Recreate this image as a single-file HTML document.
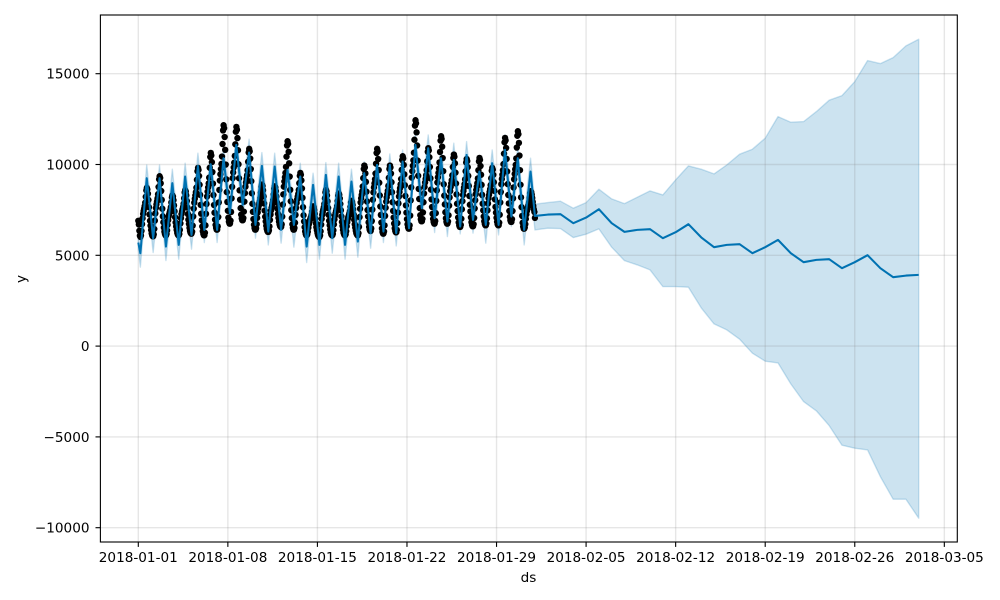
<!DOCTYPE html>
<html lang="en">
<head>
<meta charset="utf-8">
<title>Forecast chart</title>
<style>
html,body{margin:0;padding:0;background:#fff;width:1000px;height:600px;overflow:hidden}
svg{display:block}
text{font-family:"DejaVu Sans","Liberation Sans",sans-serif;font-size:13.6px;fill:#000}
</style>
</head>
<body>
<svg id="chart" xmlns="http://www.w3.org/2000/svg" width="1000" height="600" viewBox="0 0 1000 600">
  <rect x="0" y="0" width="1000" height="600" fill="#fff"/>
  <g id="band"></g>
  <g id="grid"></g>
  <g id="dots"></g>
  <g id="line"></g>
  <g id="axes"></g>
  <text x="528.5" y="582" text-anchor="middle">ds</text>
  <text x="0" y="0" text-anchor="middle" transform="translate(25.5,279) rotate(-90)">y</text>
</svg>
<script>
const xTickDays = [0, 7, 14, 21, 28, 35, 42, 49, 56, 63];
const xTickLabels = ['2018-01-01','2018-01-08','2018-01-15','2018-01-22','2018-01-29','2018-02-05','2018-02-12','2018-02-19','2018-02-26','2018-03-05'];
const yTickValues = [15000, 10000, 5000, 0, -5000, -10000];
const yTickLabels = ['15000','10000','5000','0','\u22125000','\u221210000'];

// Fitted values at the start, then alternating morning low / afternoon high for each day.
const fitStartYhat = 5700;
const fitStartUpper = 6800;
const fitStartLower = 5300;
const fitYhat = [5114,9244,5940,9244,5481,8969,5573,9336,6124,9923,6399,10015,6399,10345,7317,11080,7776,10658,6674,9923,6307,9887,6399,9703,6674,9336,5481,8877,5573,9428,5940,9336,5573,9060,5757,9520,6216,9978,6307,9978,6216,10162,6491,11080,7592,10896,7041,10345,6858,10254,6583,10529,6950,9611,6674,10070,6674,10804,7133,10345,6399,9611];
const fitUpper = [5860,9978,6690,9978,6230,9740,6320,10070,6870,10621,7150,10713,7150,10988,8070,11630,8530,11392,7420,10658,7060,10621,7150,10437,7420,10070,6230,9520,6320,10107,6690,10070,6320,9740,6510,10162,6970,10621,7060,10584,6970,10804,7240,11722,8340,11630,7790,11080,7610,11172,7330,11263,7700,10345,7420,10804,7420,11630,7880,10988,7150,10345];
const fitLower = [4343,8490,5151,8490,4710,8220,4784,8590,5335,9170,5702,9260,5702,9600,6583,10330,7042,9910,5940,9170,5573,9140,5665,8950,5445,8590,4600,8130,4784,8680,5114,8590,4784,8310,4894,8770,5390,9230,5702,9230,5518,9410,6307,10330,6766,10150,6252,9600,6032,9500,6179,9780,6216,8860,5665,9320,6124,10050,6583,9600,5573,8860];

// Daily forecast values from 2018-02-01 onward.
const forecastYhat = [7169,7241,7263,6768,7076,7538,6768,6289,6399,6437,5942,6272,6713,5986,5446,5573,5611,5116,5446,5848,5116,4620,4747,4785,4290,4620,5006,4290,3794,3882,3921];
const forecastUpper = [7814,7902,7979,7594,7902,8640,8106,7847,8199,8546,8326,9152,9923,9741,9482,9978,10567,10842,11448,12638,12329,12362,12913,13541,13794,14565,15721,15556,15887,16531,16900];
const forecastLower = [6399,6492,6470,5975,6162,6454,5446,4708,4471,4196,3276,3276,3243,2104,1222,892,380,-391,-831,-925,-2081,-3056,-3568,-4378,-5457,-5622,-5716,-7186,-8431,-8431,-9477];

// Hourly observations, one row per day (24 readings), plus the closing reading.
const observed = [
6900,6700,6350,6080,6014,6095,6340,6715,7040,7280,7444,7580,7714,7900,8226,8577,8712,8632,8393,8047,7647,7248,6902,6636,
6396,6210,6103,6050,6050,6150,6446,6909,7306,7603,7801,7966,8132,8363,8759,9189,9354,9256,8964,8542,8054,7567,7145,6820,
6527,6300,6170,6105,6105,6171,6368,6676,6939,7137,7268,7378,7488,7642,7905,8190,8300,8234,8037,7751,7422,7093,6807,6588,
6390,6237,6149,6105,6105,6179,6402,6750,7047,7270,7419,7543,7667,7840,8138,8460,8584,8512,8298,7987,7629,7271,6961,6722,
6507,6340,6245,6197,6197,6305,6631,7137,7571,7897,8113,8294,8475,8728,9162,9632,9813,9702,9368,8886,8330,7774,7292,6921,
6587,6327,6179,6105,6105,6241,6649,7284,7828,8236,8508,8735,8961,9279,9823,10412,10639,10505,10132,9584,8950,8317,7768,7346,
6966,6670,6501,6417,6417,6589,7107,7911,8600,9118,9462,9750,10037,10439,11129,11876,12163,12001,11513,10809,9997,9185,8481,7939,
7452,7073,6856,6748,6748,6908,7387,8132,8771,9250,9569,9835,10101,10474,11113,11805,12071,11917,11454,10786,10015,9245,8576,8063,
7600,7240,7035,6932,6932,7050,7403,7953,8425,8778,9014,9210,9407,9682,10153,10664,10860,10727,10327,9749,9083,8416,7839,7394,
6995,6684,6506,6417,6417,6491,6714,7061,7359,7582,7730,7854,7978,8152,8449,8771,8895,8817,8582,8244,7853,7462,7123,6862,
6628,6445,6341,6289,6289,6364,6590,6942,7243,7469,7620,7745,7871,8047,8348,8674,8800,8733,8532,8241,7906,7570,7280,7056,
6855,6698,6609,6564,6564,6706,7130,7791,8357,8781,9065,9300,9536,9867,10433,11046,11282,11136,10698,10066,9336,8606,7974,7487,
7049,6709,6514,6417,6417,6511,6792,7228,7603,7884,8071,8227,8383,8602,8976,9382,9538,9435,9126,8680,8165,7650,7204,6860,
6551,6311,6174,6105,6105,6153,6296,6520,6711,6855,6950,7030,7110,7222,7413,7620,7700,7650,7498,7279,7026,6773,6554,6385,
6233,6115,6048,6014,6014,6092,6324,6686,7001,7229,7385,7514,7643,7824,8135,8471,8600,8525,8301,7976,7602,7228,6903,6654,
6429,6255,6155,6105,6105,6174,6380,6702,6977,7184,7321,7436,7551,7712,7987,8285,8400,8331,8125,7826,7482,7138,6839,6610,
6403,6243,6151,6105,6105,6162,6332,6598,6825,6996,7109,7204,7299,7432,7659,7905,8000,7943,7773,7526,7242,6958,6711,6522,
6351,6219,6143,6105,6105,6220,6565,7103,7563,7908,8139,8330,8522,8791,9251,9750,9942,9834,9510,9043,8503,7963,7495,7136,
6812,6560,6416,6344,6344,6479,6886,7518,8060,8467,8737,8963,9189,9505,10047,10634,10860,10720,10300,9694,8995,8295,7689,7223,
6803,6477,6290,6197,6197,6309,6646,7171,7620,7957,8182,8369,8556,8819,9268,9755,9942,9832,9501,9024,8473,7922,7445,7078,
6747,6490,6343,6270,6270,6396,6772,7358,7861,8237,8489,8698,8907,9200,9703,10247,10456,10336,9978,9460,8862,8265,7747,7348,
6990,6711,6552,6472,6472,6651,7188,8023,8739,9276,9634,9932,10231,10648,11364,12140,12438,12271,11771,11048,10213,9379,8656,8100,
7599,7210,6987,6876,6876,6997,7359,7922,8405,8767,9009,9210,9411,9693,10176,10699,10900,10775,10402,9862,9239,8616,8077,7661,
7288,6997,6831,6748,6748,6892,7325,8000,8575,9008,9297,9537,9778,10114,10691,11317,11557,11413,10980,10355,9633,8912,8287,7806,
7373,7037,6844,6748,6748,6862,7204,7736,8192,8534,8761,8951,9141,9407,9863,10357,10547,10427,10069,9551,8954,8356,7839,7440,
7082,6803,6644,6564,6564,6676,7012,7535,7984,8320,8544,8731,8918,9179,9628,10113,10300,10189,9856,9375,8820,8266,7785,7415,
7082,6823,6675,6601,6601,6714,7052,7579,8031,8369,8595,8783,8971,9234,9686,10175,10363,10252,9918,9436,8880,8324,7842,7472,
7138,6878,6730,6656,6656,6751,7035,7477,7856,8140,8329,8487,8645,8866,9245,9655,9813,9718,9434,9024,8550,8077,7666,7351,
7066,6845,6719,6656,6656,6800,7233,7906,8483,8916,9205,9445,9686,10022,10599,11225,11465,11326,10910,10309,9615,8921,8320,7858,
7441,7118,6933,6840,6840,6990,7439,8138,8737,9186,9486,9735,9985,10334,10933,11582,11832,11671,11189,10492,9688,8884,8187,7651,
7169,6794,6579,6472,6472,6534,6719,7007,7253,7438,7562,7664,7767,7911,8158,8425,8528,8484,8352,8161,7941,7721,7530,7383,
7060
];

const svgNS = 'http://www.w3.org/2000/svg';
const plot = { left: 100.4, right: 957.3, top: 15, bottom: 542 };

function xScale(day) { return 138.3 + day * 12.794; }
function yScale(value) { return 346.1 - value * 0.01816; }
function make(tag, attrs, parent) {
  const el = document.createElementNS(svgNS, tag);
  for (const k in attrs) el.setAttribute(k, attrs[k]);
  parent.appendChild(el);
  return el;
}
function fitDay(i) { return 0.16 + i * 0.5; }
function forecastDay(i) { return 31 + i; }
function pointList(start, fit, forecast) {
  const pts = [[xScale(0), yScale(start)]];
  fit.forEach((v, i) => pts.push([xScale(fitDay(i)), yScale(v)]));
  forecast.forEach((v, i) => pts.push([xScale(forecastDay(i)), yScale(v)]));
  return pts;
}
function toStr(pts) { return pts.map(p => p[0].toFixed(2) + ',' + p[1].toFixed(2)).join(' '); }

const gridG = document.getElementById('grid');
const axesG = document.getElementById('axes');
const bandG = document.getElementById('band');
const dotsG = document.getElementById('dots');
const lineG = document.getElementById('line');

// uncertainty band
const upperPts = pointList(fitStartUpper, fitUpper, forecastUpper);
const lowerPts = pointList(fitStartLower, fitLower, forecastLower);
const bandEl = make('polygon', {
  points: toStr(upperPts.concat(lowerPts.slice().reverse())),
  fill: '#0072B2', 'fill-opacity': 0.2, stroke: '#0072B2', 'stroke-opacity': 0.2, 'stroke-width': 1.39, 'stroke-linejoin': 'round'
}, bandG);



// gridlines and ticks
xTickDays.forEach((d, i) => {
  const x = xScale(d);
  const g = make('line', { x1: x, x2: x, y1: plot.top, y2: plot.bottom, stroke: '#808080', 'stroke-opacity': 0.2, 'stroke-width': 1.39 }, gridG);
  
  
  const t = make('line', { x1: x, x2: x, y1: plot.bottom, y2: plot.bottom + 4.9, stroke: '#000', 'stroke-width': 1.11 }, axesG);
  
  
  const l = make('text', { x: x, y: 562, 'text-anchor': 'middle' }, axesG);
  l.textContent = xTickLabels[i];
  
  
});
yTickValues.forEach((v, i) => {
  const y = yScale(v);
  const g = make('line', { x1: plot.left, x2: plot.right, y1: y, y2: y, stroke: '#808080', 'stroke-opacity': 0.2, 'stroke-width': 1.39 }, gridG);
  
  
  const t = make('line', { x1: plot.left - 4.9, x2: plot.left, y1: y, y2: y, stroke: '#000', 'stroke-width': 1.11 }, axesG);
  
  
  const l = make('text', { x: 89.5, y: y + 5, 'text-anchor': 'end' }, axesG);
  l.textContent = yTickLabels[i];
  
  
});

// observed points
observed.forEach((v, i) => {
  const c = make('circle', { cx: xScale(i / 24).toFixed(2), cy: yScale(v).toFixed(2), r: 3.2, fill: '#000' }, dotsG);
  
  
});

// forecast line
const lineEl = make('polyline', {
  points: toStr(pointList(fitStartYhat, fitYhat, forecastYhat)),
  fill: 'none', stroke: '#0072B2', 'stroke-width': 2.08, 'stroke-linejoin': 'round', 'stroke-linecap': 'butt'
}, lineG);



// frame
const frame = make('rect', { x: plot.left, y: plot.top, width: plot.right - plot.left, height: plot.bottom - plot.top, fill: 'none', stroke: '#000', 'stroke-width': 1.11 }, axesG);


</script>
</body>
</html>
